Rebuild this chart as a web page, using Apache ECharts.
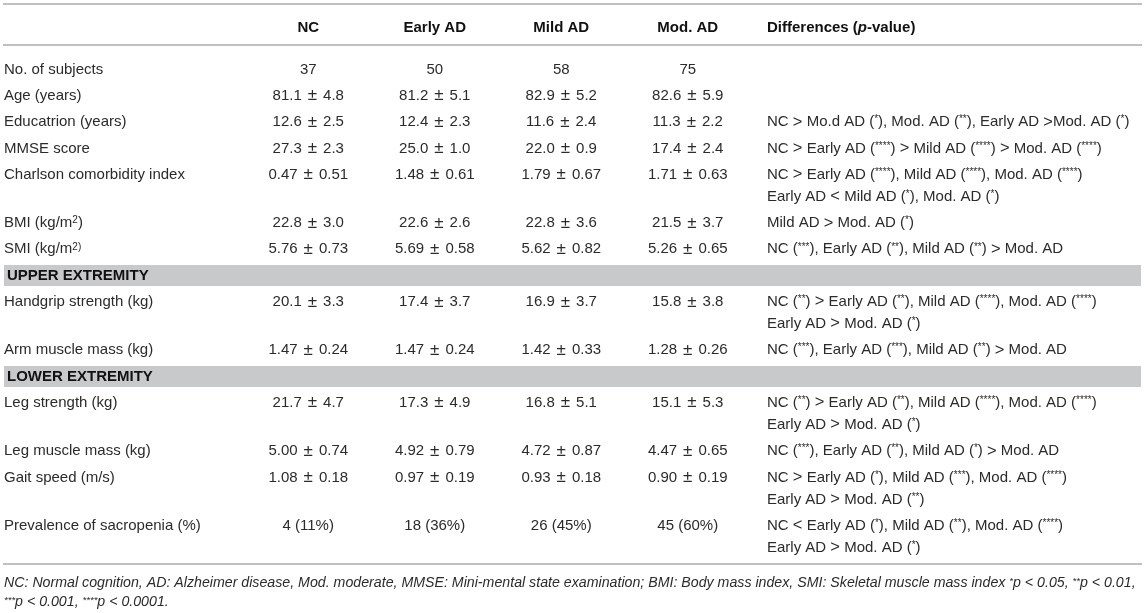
<!DOCTYPE html>
<html>
<head>
<meta charset="utf-8">
<script src="https://cdn.jsdelivr.net/npm/echarts@6/dist/echarts.min.js"></script>
<style>
  html, body { margin: 0; padding: 0; background: #fff; }
  #app { width: 1145px; height: 613px; }
</style>
</head>
<body>
<div id="app"></div>
<script>
(function() {
  // column headers
  const groups = ["NC", "Early AD", "Mild AD", "Mod. AD"];
  // section rows drawn as grey bands
  const bandRows = ["UPPER EXTREMITY", "LOWER EXTREMITY"];
  // row labels ({sup|..} = superscript)
  const rowLabels = [
    "No. of subjects",
    "Age (years)",
    "Educatrion (years)",
    "MMSE score",
    "Charlson comorbidity index",
    "BMI (kg/m{sup|2})",
    "SMI (kg/m{sup|2)}",
    "UPPER EXTREMITY",
    "Handgrip strength (kg)",
    "Arm muscle mass (kg)",
    "LOWER EXTREMITY",
    "Leg strength (kg)",
    "Leg muscle mass (kg)",
    "Gait speed (m/s)",
    "Prevalence of sacropenia (%)"
  ];
  const ncValues = ["37", "81.1 ± 4.8", "12.6 ± 2.5", "27.3 ± 2.3", "0.47 ± 0.51", "22.8 ± 3.0", "5.76 ± 0.73", "",
    "20.1 ± 3.3", "1.47 ± 0.24", "", "21.7 ± 4.7", "5.00 ± 0.74", "1.08 ± 0.18", "4 (11%)"];
  const earlyValues = ["50", "81.2 ± 5.1", "12.4 ± 2.3", "25.0 ± 1.0", "1.48 ± 0.61", "22.6 ± 2.6", "5.69 ± 0.58", "",
    "17.4 ± 3.7", "1.47 ± 0.24", "", "17.3 ± 4.9", "4.92 ± 0.79", "0.97 ± 0.19", "18 (36%)"];
  const mildValues = ["58", "82.9 ± 5.2", "11.6 ± 2.4", "22.0 ± 0.9", "1.79 ± 0.67", "22.8 ± 3.6", "5.62 ± 0.82", "",
    "16.9 ± 3.7", "1.42 ± 0.33", "", "16.8 ± 5.1", "4.72 ± 0.87", "0.93 ± 0.18", "26 (45%)"];
  const modValues = ["75", "82.6 ± 5.9", "11.3 ± 2.2", "17.4 ± 2.4", "1.71 ± 0.63", "21.5 ± 3.7", "5.26 ± 0.65", "",
    "15.8 ± 3.8", "1.28 ± 0.26", "", "15.1 ± 5.3", "4.47 ± 0.65", "0.90 ± 0.19", "45 (60%)"];
  const differences = [
    "",
    "",
    "NC > Mo.d AD (*), Mod. AD (**), Early AD >Mod. AD (*)",
    "NC > Early AD (****) > Mild AD (****) > Mod. AD (****)",
    "NC > Early AD (****), Mild AD (****), Mod. AD (****)\nEarly AD < Mild AD (*), Mod. AD (*)",
    "Mild AD > Mod. AD (*)",
    "NC (***), Early AD (**), Mild AD (**) > Mod. AD",
    "",
    "NC (**) > Early AD (**), Mild AD (****), Mod. AD (****)\nEarly AD > Mod. AD (*)",
    "NC (***), Early AD (***), Mild AD (**) > Mod. AD",
    "",
    "NC (**) > Early AD (**), Mild AD (****), Mod. AD (****)\nEarly AD > Mod. AD (*)",
    "NC (***), Early AD (**), Mild AD (*) > Mod. AD",
    "NC > Early AD (*), Mild AD (***), Mod. AD (****)\nEarly AD > Mod. AD (**)",
    "NC < Early AD (*), Mild AD (**), Mod. AD (****)\nEarly AD > Mod. AD (*)"
  ];
  const footnote = [
    "NC: Normal cognition, AD: Alzheimer disease, Mod. moderate, MMSE: Mini-mental state examination; BMI: Body mass index, SMI: Skeletal muscle mass index {sup|*}p < 0.05, {sup|**}p < 0.01,",
    "{sup|***}p < 0.001, {sup|****}p < 0.0001."
  ];

  const columns = [ncValues, earlyValues, mildValues, modValues];

  const FONT = "'Liberation Sans', Arial, sans-serif";
  const TEXT = "#2b2b2b";
  const RULE = "#a9abae";
  const BAND = "#c8c9cb";
  const FS = 15;
  const LINE_PX = 22;
  // y axis is in "row" units; a following line inside a cell adds EXTRA_LINE
  const EXTRA_LINE = 22 / 26.3;
  const GRID = { left: 245, right: 394, top: 45, bottom: 49 };
  const INSET = 3;

  // cumulative row positions from the number of lines in each row
  const rowLines = differences.map(d => (d ? d.split("\n").length : 1));
  const rowPos = [];
  let acc = 0;
  rowLines.forEach(n => {
    rowPos.push(acc);
    acc += 1 + (n - 1) * EXTRA_LINE;
  });
  const lastEnd = rowPos[rowPos.length - 1] + (rowLines[rowLines.length - 1] - 1) * EXTRA_LINE;
  const yMin = -0.93;
  const yMax = lastEnd + 0.62;

  // superscripts: raised by bottom padding inside a middle-aligned token
  const sup = { fontSize: 10, fontFamily: FONT, padding: [0, 0, 5, 0] };
  const op = { fontSize: 16.5, fontFamily: FONT };
  const pm = { fontSize: 17, fontFamily: FONT, padding: [0, 6, 0, 6] };
  const supItalic = { fontSize: 9.5, fontFamily: FONT, fontStyle: "italic", padding: [0, 0, 5, 0] };

  function markDiff(s) {
    return s
      .replace(/\((\*+)\)/g, "({sup|$1})")
      .replace(/([<>])/g, "{op|$1}");
  }
  function markValue(s) {
    return s.replace(" ± ", "{pm|±}");
  }

  function renderRow(params, api) {
    const i = params.dataIndex;
    const cs = params.coordSys;
    const y = api.coord([0, api.value(1)])[1];
    const leftX = cs.x - GRID.left + INSET + 1;
    const children = [];

    if (bandRows.indexOf(rowLabels[i]) >= 0) {
      const h = api.size([0, 0.8])[1];
      children.push({
        type: "rect",
        shape: { x: leftX, y: y - h / 2, width: api.getWidth() - 2 * INSET - 2, height: h },
        style: { fill: BAND }
      });
      children.push({
        type: "text",
        x: leftX + 3,
        y: y,
        style: {
          text: rowLabels[i], fill: "#111", fontFamily: FONT, fontSize: FS,
          fontWeight: "bold", verticalAlign: "middle", align: "left"
        }
      });
      return { type: "group", children };
    }

    children.push({
      type: "text",
      x: leftX,
      y: y - LINE_PX / 2,
      style: {
        text: rowLabels[i], fill: TEXT, fontFamily: FONT, fontSize: FS,
        lineHeight: LINE_PX, verticalAlign: "top", align: "left",
        rich: { sup: sup }
      }
    });
    columns.forEach((col, g) => {
      const x = api.coord([g, api.value(1)])[0];
      children.push({
        type: "text",
        x: x,
        y: y - LINE_PX / 2,
        style: {
          text: markValue(col[i]), fill: TEXT, fontFamily: FONT, fontSize: FS,
          lineHeight: LINE_PX, align: "center", verticalAlign: "top",
          rich: { pm: pm }
        }
      });
    });
    if (differences[i]) {
      children.push({
        type: "text",
        x: cs.x + cs.width + 16,
        y: y - LINE_PX / 2,
        style: {
          text: markDiff(differences[i]), fill: TEXT, fontFamily: FONT, fontSize: FS,
          lineHeight: LINE_PX, verticalAlign: "top", align: "left",
          rich: { sup: sup, op: op }
        }
      });
    }
    return { type: "group", children };
  }

  const chart = echarts.init(document.getElementById("app"));
  const W = 1145, H = 613;

  const option = {
    animation: false,
    textStyle: { fontFamily: FONT },
    grid: GRID,
    xAxis: {
      type: "category",
      data: groups,
      position: "top",
      axisLine: { show: false },
      axisTick: { show: false },
      splitLine: { show: false },
      axisLabel: { color: "#111", fontSize: FS, fontWeight: "bold", margin: 10, fontFamily: FONT }
    },
    yAxis: {
      type: "value",
      inverse: true,
      min: yMin,
      max: yMax,
      show: false
    },
    graphic: [
      { type: "line", shape: { x1: INSET, y1: 4, x2: W - INSET, y2: 4 }, style: { stroke: RULE, lineWidth: 1.5 } },
      { type: "line", shape: { x1: INSET, y1: GRID.top, x2: W - INSET, y2: GRID.top }, style: { stroke: RULE, lineWidth: 1.5 } },
      { type: "line", shape: { x1: INSET, y1: H - GRID.bottom, x2: W - INSET, y2: H - GRID.bottom }, style: { stroke: RULE, lineWidth: 1.5 } },
      {
        type: "text",
        x: W - GRID.right + 16,
        y: 28,
        style: {
          text: "{b|Differences (}{i|p}{b|-value)}",
          fill: "#111",
          verticalAlign: "middle",
          rich: {
            b: { fontFamily: FONT, fontSize: FS, fontWeight: "bold" },
            i: { fontFamily: FONT, fontSize: FS, fontWeight: "bold", fontStyle: "italic" }
          }
        }
      },
      {
        type: "text",
        x: INSET + 1,
        y: H - GRID.bottom + 10,
        style: {
          text: footnote.join("\n"),
          fill: TEXT,
          fontFamily: FONT,
          fontSize: 14.2,
          fontStyle: "italic",
          lineHeight: 19,
          verticalAlign: "top",
          rich: { sup: supItalic }
        }
      }
    ],
    series: [
      {
        type: "custom",
        renderItem: renderRow,
        encode: { x: 0, y: 1 },
        data: rowPos.map(p => [0, p])
      }
    ]
  };
  chart.setOption(option);
})();
</script>
</body>
</html>
